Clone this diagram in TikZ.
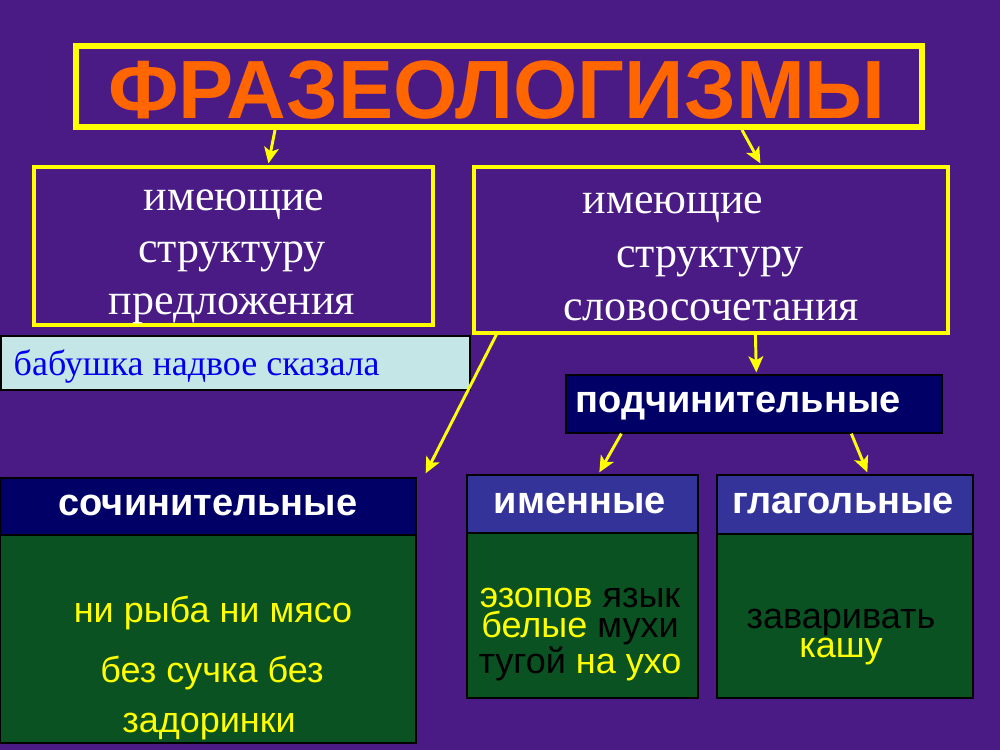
\documentclass[tikz,border=0pt]{standalone}
\usepackage{fontspec}
\setmainfont{Liberation Serif}
\setsansfont{Liberation Sans}
\usetikzlibrary{fit,calc,arrows.meta}
\newcommand\myfs[1]{\fontsize{#1}{#1}\selectfont}
\definecolor{bgpurple}{HTML}{4A1A85}
\definecolor{ttlorange}{HTML}{FF6600}
\definecolor{navyhead}{HTML}{000066}
\definecolor{bluehead}{HTML}{333399}
\definecolor{greenbody}{HTML}{0A5222}
\definecolor{paleblue}{HTML}{C4E6E6}
\definecolor{ylw}{HTML}{FFFF00}
\definecolor{txtblue}{HTML}{0000EE}
\begin{document}
\begin{tikzpicture}[x=0.75pt,y=-0.75pt,
  ybox/.style={draw=ylw,line width=2.4pt,inner sep=0pt},
  headbox/.style={draw=black,line width=1pt,inner sep=0pt},
  bodybox/.style={draw=black,line width=1pt,fill=greenbody,inner sep=0pt},
  serifw/.style={anchor=base,text=white,font=\myfs{33}},
  headtxt/.style={anchor=base,text=white,font=\sffamily\bfseries\myfs{28.5}},
  bodytxt/.style={anchor=base,font=\sffamily\myfs{27}},
  arr/.style={draw=ylw,line width=2.2pt,-{Stealth[length=12pt,width=11pt,inset=3pt]}}]
\fill[bgpurple] (0,0) rectangle (1000,750);
\useasboundingbox (0,0) rectangle (1000,750);
% title
\node[ybox,line width=4.5pt,fit={(76,46)(922,127)}] (title) {};
\node[anchor=base,text=ttlorange,font=\sffamily\bfseries\myfs{62}] (ttl) at (497,118) {ФРАЗЕОЛОГИЗМЫ};
% left box
\node[ybox,fit={(34,167)(433,325)}] (lb) {};
\node[serifw] (lb1) at (234,210) {имеющие};
\node[serifw] (lb2) at (232,262) {структуру};
\node[serifw] (lb3) at (232,314) {предложения};
% right box
\node[ybox,fit={(474,167)(948,333)}] (rb) {};
\node[serifw] (rb1) at (673,213) {имеющие};
\node[serifw] (rb2) at (710,267) {структуру};
\node[serifw] (rb3) at (711,320) {словосочетания};
% babushka
\node[draw=black,line width=2.2pt,fill=paleblue,inner sep=0pt,fit={(1,336)(470,390)}] (bab) {};
\node[anchor=base west,text=txtblue,font=\myfs{27}] (babt) at (9,375) {бабушка надвое сказала};
% podchinitelnye
\node[headbox,fill=navyhead,fit={(566,375)(942,433)}] (pd) {};
\node[headtxt] (pdt) at (738,412) {подчинительные};
% sochinitelnye
\node[bodybox,fit={(0,535)(416,743)}] (sb) {};
\node[headbox,fill=navyhead,fit={(0,478)(416,535)}] (sh) {};
\node[headtxt] (sht) at (208,515) {сочинительные};
\node[bodytxt,text=ylw] (sb1) at (213,622) {ни рыба ни мясо};
\node[bodytxt,text=ylw] (sb2) at (212,682) {без сучка без};
\node[bodytxt,text=ylw] (sb3) at (209,732) {задоринки};
% imennye
\node[bodybox,fit={(467,533)(698,698)}] (ib) {};
\node[headbox,fill=bluehead,fit={(467,475)(698,533)}] (ih) {};
\node[headtxt] (iht) at (580,513) {именные};
\node[anchor=base,align=center,inner sep=0pt,font=\sffamily\fontsize{27}{22.5}\selectfont] (ibt) at (580,673)
  {\color{ylw}эзопов \color{black}язык\\\color{ylw}белые \color{black}мухи\\\color{black}тугой \color{ylw}на ухо};
% glagolnye
\node[bodybox,fit={(717,534)(973,698)}] (gb) {};
\node[headbox,fill=bluehead,fit={(717,475)(973,534)}] (gh) {};
\node[headtxt] (ght) at (843,513) {глагольные};
\node[anchor=base,align=center,inner sep=0pt,font=\sffamily\fontsize{27}{21.75}\selectfont] (gbt) at (841,657)
  {\color{black}заваривать\\\color{ylw}кашу};
% connectors
\draw[arr] ($(title.south west)+(202,0)$) -- ($(lb.north west)+(236,-2)$);
\draw[arr] ($(title.south west)+(669,0)$) -- ($(rb.north west)+(288,-2)$);
\draw[arr] ($(rb.south west)+(24,0)$) -- ($(sh.north east)+(9,-4)$);
\draw[arr] ($(rb.south west)+(283,0)$) -- ($(pd.north west)+(191,-2)$);
\draw[arr] ($(pd.south west)+(56,0)$) -- ($(ih.north west)+(133,-2)$);
\draw[arr] ($(pd.south west)+(286,0)$) -- ($(gh.north west)+(151,-2)$);
\end{tikzpicture}
\end{document}
